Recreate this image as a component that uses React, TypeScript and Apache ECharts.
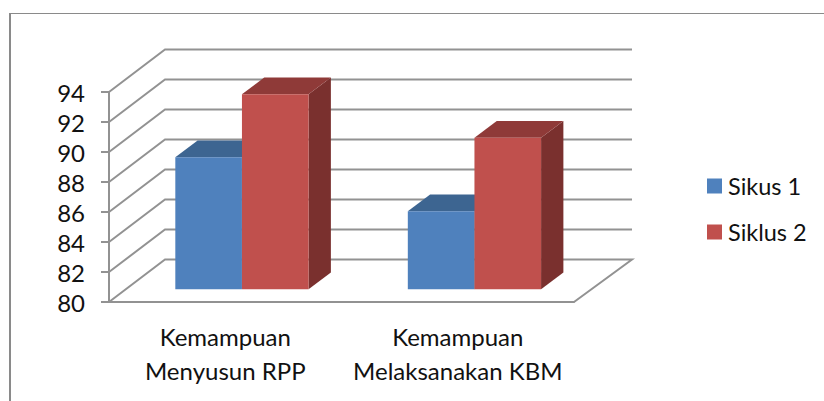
import React, { useEffect, useRef } from "react";
import * as echarts from "echarts";

const categories = ["Kemampuan\nMenyusun RPP", "Kemampuan\nMelaksanakan KBM"];
const seriesNames = ["Sikus 1", "Siklus 2"];
const siklus1 = [88.8, 85.2];
const siklus2 = [93, 90.1];
const yTicks = [80, 82, 84, 86, 88, 90, 92, 94];

const FONT = "Lato, Carlito, sans-serif";
const GRAY = "#929292";
const WALL_DX = 56;
const WALL_DY = 42.5;
const BACK_EXTRA = 2;
const BAR_DX = 16.7;
const BAR_DY = 12.7;
const TOP_DX = 22.3;
const TOP_DY = 16.7;
const BAR_RATIO = 0.2866;

const wallRender = (params: any, api: any) => {
  const v = api.value(1);
  const band = api.size([1, 0])[0];
  const [cx, y] = api.coord([0, v]);
  const left = cx - band / 2;
  const right = left + band * categories.length;
  const backY = y - WALL_DY;
  const points = [
    [left, y],
    [left + WALL_DX, backY],
    [right + WALL_DX + BACK_EXTRA, backY],
  ];
  if (v === yTicks[0]) points.push([right, y]);
  return {
    type: "polyline",
    shape: { points },
    style: { fill: "none", stroke: GRAY, lineWidth: 2 },
  };
};

const barRender = (slot: number, front: string, top: string, side: string) => (params: any, api: any) => {
  const band = api.size([1, 0])[0];
  const w = band * BAR_RATIO;
  const i = api.value(0);
  const [cx, yTop0] = api.coord([i, api.value(1)]);
  const yBase0 = api.coord([i, yTicks[0]])[1];
  const x0 = cx + BAR_DX + (slot - 1) * w;
  const x1 = x0 + w;
  const yT = yTop0 - BAR_DY;
  const yB = yBase0 - BAR_DY;
  return {
    type: "group",
    children: [
      {
        type: "polygon",
        shape: { points: [[x1, yT], [x1 + TOP_DX, yT - TOP_DY], [x1 + TOP_DX, yB - TOP_DY], [x1, yB]] },
        style: { fill: side },
      },
      {
        type: "polygon",
        shape: { points: [[x0, yT], [x0 + TOP_DX, yT - TOP_DY], [x1 + TOP_DX, yT - TOP_DY], [x1, yT]] },
        style: { fill: top },
      },
      { type: "rect", shape: { x: x0, y: yT, width: w, height: yB - yT }, style: { fill: front } },
    ],
  };
};

export default function App() {
  const ref = useRef<HTMLDivElement>(null);
  useEffect(() => {
    const chart = echarts.init(ref.current!, undefined, { renderer: "svg" });
    chart.setOption({
      animation: false,
      backgroundColor: "#ffffff",
      textStyle: { fontFamily: FONT },
      grid: { left: 109, top: 92, width: 465, height: 210 },
      legend: {
        orient: "vertical",
        left: 702,
        top: 169,
        itemWidth: 15,
        itemHeight: 15,
        itemGap: 22,
        icon: "rect",
        data: seriesNames,
        textStyle: { fontFamily: FONT, fontSize: 23.5, color: "#111111", padding: [0, 0, 0, 1] },
      },
      xAxis: {
        type: "category",
        data: categories,
        axisLine: { lineStyle: { color: GRAY, width: 2 } },
        axisTick: { length: 8, lineStyle: { color: GRAY, width: 2 } },
        axisLabel: { fontFamily: FONT, fontSize: 24, color: "#111111", lineHeight: 34, margin: 17, interval: 0 },
      },
      yAxis: {
        type: "value",
        min: 80,
        max: 94,
        interval: 2,
        splitLine: { show: false },
        axisLine: { show: true, lineStyle: { color: GRAY, width: 2 } },
        axisTick: { show: true, length: 8, lineStyle: { color: GRAY, width: 2 } },
        axisLabel: { fontFamily: FONT, fontSize: 24, color: "#111111", margin: 24 },
      },
      graphic: [
        { type: "line", shape: { x1: 10, y1: 13, x2: 10, y2: 401 }, style: { stroke: "#8a8a8a", lineWidth: 2 } },
        { type: "line", shape: { x1: 9, y1: 13.5, x2: 824, y2: 13.5 }, style: { stroke: "#8a8a8a", lineWidth: 1 } },
      ],
      series: [
        {
          type: "custom",
          renderItem: wallRender,
          data: yTicks.map((v) => [0, v]),
          encode: { x: 0, y: 1 },
          silent: true,
          z: 1,
        },
        {
          type: "custom",
          name: seriesNames[0],
          renderItem: barRender(0, "#4f81bd", "#3d6591", "#3b6088"),
          data: siklus1.map((v, i) => [i, v]),
          encode: { x: 0, y: 1 },
          itemStyle: { color: "#4f81bd" },
          z: 3,
        },
        {
          type: "custom",
          name: seriesNames[1],
          renderItem: barRender(1, "#c0504d", "#8f3a38", "#7a302e"),
          data: siklus2.map((v, i) => [i, v]),
          encode: { x: 0, y: 1 },
          itemStyle: { color: "#c0504d" },
          z: 4,
        },
      ],
    });
    return () => chart.dispose();
  }, []);
  return <div ref={ref} style={{ position: "absolute", left: 0, top: 0, width: 824, height: 401 }} />;
}
